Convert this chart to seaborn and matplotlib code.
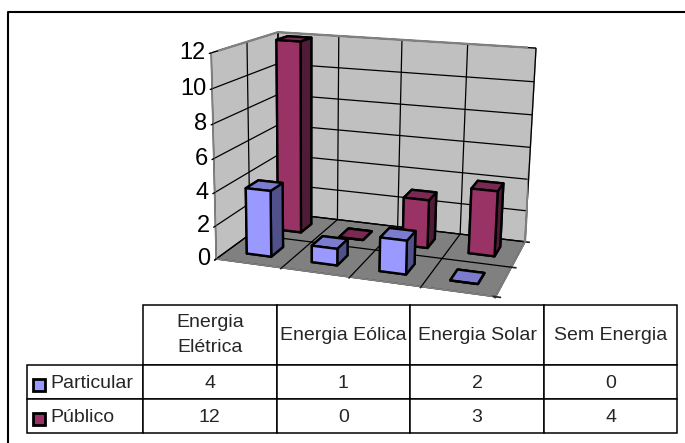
import matplotlib
matplotlib.use('Agg')
import matplotlib.pyplot as plt
import seaborn as sns
import numpy as np
from matplotlib.patches import Rectangle

# Data
categories = ['Energia\nElétrica', 'Energia Eólica', 'Energia Solar', 'Sem Energia']
series_names = ['Particular', 'Público']
particular = [4, 1, 2, 0]
publico = [12, 0, 3, 4]
z_ticks = [0, 2, 4, 6, 8, 10, 12]

W, H = 685, 443

sns.set_theme(style='white')
plt.rcParams['font.family'] = ['Liberation Sans', 'DejaVu Sans']

blue_faces = ['#9999FF', '#7C7CCF', '#9999FF', '#50508A', '#50508A', '#50508A']
red_faces = ['#993366', '#7A2952', '#993366', '#501B36', '#501B36', '#501B36']
blue_key, red_key = '#9999FF', '#993366'
frame_grey = '#808080'

fig = plt.figure(figsize=(W / 100, H / 100), dpi=100)

# outer frame
fig.add_artist(plt.Line2D([8 / W, 8 / W, 1], [0, 1 - 11.5 / H, 1 - 11.5 / H], color='black', lw=1.5))

# 3D chart
ax = fig.add_axes([173 / W, 1 - 312 / H, 400 / W, 310 / H], projection='3d', computed_zorder=False)
ax.patch.set_alpha(0)
ax.set_proj_type('persp', focal_length=0.6)
ax.view_init(elev=14.5, azim=-72.5, roll=-1)
ax.set_box_aspect((292, 165, 214), zoom=1.2)

bar_w = 0.38
offset = (1 - bar_w) / 2
for row, (vals, faces) in reversed(list(enumerate([(particular, blue_faces), (publico, red_faces)]))):
    for i, v in enumerate(vals):
        ax.bar3d(i + offset, row + offset, 0, bar_w, bar_w, v, color=faces, shade=False,
                 edgecolor='black', linewidth=1.7, zorder=10 + (1 - row) * 10 + i)

ax.set_xlim(0, 4)
ax.set_ylim(0, 2)
ax.set_zlim(0, 12)
ax.set_xticks([0, 1, 2, 3, 4])
ax.set_yticks([0, 1, 2])
ax.set_zticks(z_ticks)
ax.set_xticklabels([])
ax.set_yticklabels([])
ax.tick_params(axis='z', labelsize=17, labelcolor='black', color='black', pad=-6, bottom=True)
ax.zaxis.set_ticks_position('lower')
ax.grid(True)
for axis, pane in [(ax.xaxis, '#C0C0C0'), (ax.yaxis, '#C0C0C0'), (ax.zaxis, '#808080')]:
    axis.set_pane_color(pane)
    axis.pane.set_edgecolor(frame_grey)
    axis.line.set_color(frame_grey)
    axis._axinfo['grid'].update(color='black', linewidth=0.9)
for label in ax.get_zticklabels():
    label.set_ha('right')
    label.set_va('center')
ax.zaxis._axinfo['tick'].update(inward_factor=0.3, outward_factor=0, color='black',
                                linewidth={True: 1, False: 0.5})

# grey outline of the walls on top of the edge grid lines
x0, x1 = ax.get_xlim()
y0, y1 = ax.get_ylim()
z0, z1 = ax.get_zlim()
ax.plot([x0, x0, x1, x1], [y0, y1, y1, y1], [z1, z1, z1, z0], color=frame_grey, lw=1.6, zorder=1)
ax.plot([x0, x0], [y0, y0], [z0, z1], color=frame_grey, lw=1.6, zorder=1)
ax.set_xlim(x0, x1)
ax.set_ylim(y0, y1)
ax.set_zlim(z0, z1)

# table underneath, pixel coordinates
tab = fig.add_axes([0, 0, 1, 1])
tab.set_xlim(0, W)
tab.set_ylim(H, 0)
tab.axis('off')
tab.patch.set_alpha(0)
cell_text = [[str(v) for v in particular], [str(v) for v in publico]]
x_edges = [27, 143, 276.5, 410, 544, 677]
table = tab.table(cellText=[[''] + categories] + [[n] + t for n, t in zip(series_names, cell_text)],
                  cellLoc='center', colWidths=[e / W for e in np.diff(x_edges)],
                  bbox=[27 / W, 1 - 433 / H, 650 / W, 128 / H], transform=fig.transFigure)
table.auto_set_font_size(False)
table.set_fontsize(14)
for (r, c), cell in table.get_celld().items():
    cell.set_height([60, 34, 34][r] / H)
    cell.set_linewidth(1.1)
    cell.set_edgecolor('black')
    cell.get_text().set_linespacing(1.55)
    if r > 0:
        cell.get_text().set_va('center_baseline')
    if r == 0 and c == 0:
        cell.set_visible(False)
    if c == 0 and r > 0:
        cell.get_text().set_ha('left')
        cell.PAD = 0.2
tab.add_patch(Rectangle((33, 378.5), 12, 12, fc=blue_key, ec='black', lw=2))
tab.add_patch(Rectangle((33, 412.5), 12, 12, fc=red_key, ec='black', lw=2))

fig.savefig('out.png', dpi=100, facecolor='white')
